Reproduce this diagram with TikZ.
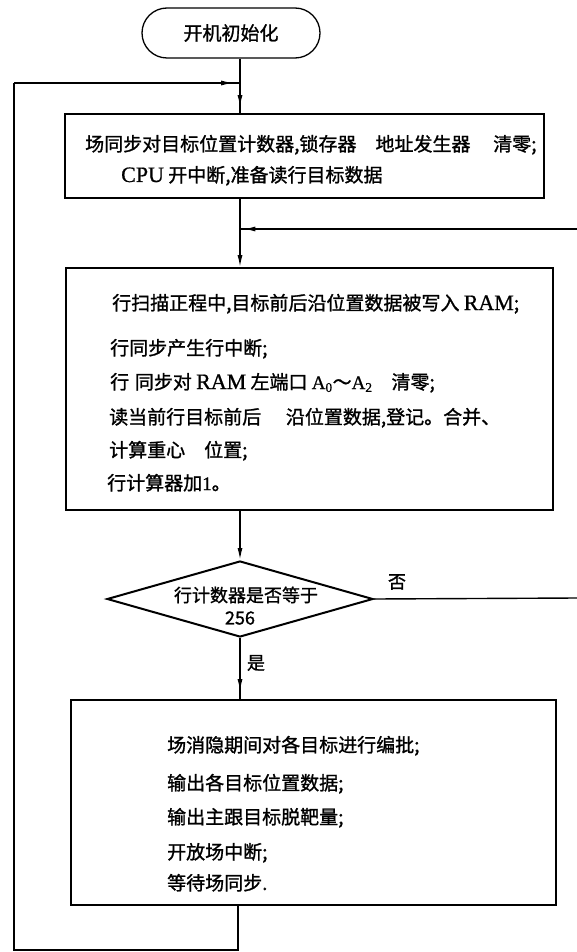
\documentclass[tikz,border=0pt]{standalone}
\usepackage{fontspec}
\setmainfont{Noto Sans CJK SC}[FakeBold=1.2]
\newfontfamily\lat{Liberation Serif}[FakeBold=0.8]
\newcommand\latw[1]{{\lat\fontsize{22}{22}\selectfont #1}}
\usetikzlibrary{shapes.geometric,arrows.meta,decorations.markings}
\begin{document}
\begin{tikzpicture}[x=1pt,y=-1pt,
  cjkfont/.style={font=\fontsize{19}{19}\selectfont},
  smallfont/.style={font=\fontsize{18}{18}\selectfont},
  terminal/.style={draw,line width=1.3pt,rounded corners=25pt,minimum width=178pt,minimum height=50pt,inner sep=0pt,cjkfont},
  procbox/.style={draw,line width=1.7pt,rectangle,inner sep=0pt},
  decision/.style={draw,diamond,line width=2pt,inner sep=0pt,minimum width=266pt,minimum height=76pt},
  conn/.style={line width=1.4pt},
  tip/.style={-{Latex[length=12pt,width=5pt]}},
  midarrow/.style={postaction={decorate,decoration={markings,mark=at position #1 with {\arrow{Latex[length=12pt,width=5pt]}}}}},
  txt/.style={anchor=base west,inner sep=0pt,cjkfont},
  ctxt/.style={anchor=center,inner sep=0pt,smallfont}]
\useasboundingbox[fill=white] (0,0) rectangle (577,952);

% nodes
\node[terminal] (start) at (231,33) {开机初始化};
\node[procbox,minimum width=479pt,minimum height=84pt] (b1) at (304.5,156) {};
\node[procbox,minimum width=487pt,minimum height=242pt] (b2) at (309.5,389) {};
\node[decision] (dec) at (240,599) {};
\node[procbox,minimum width=485pt,minimum height=205pt] (b3) at (313.5,802.5) {};

% texts in box 1
\node[txt] (t11) at (85,151) {场同步对目标位置计数器,锁存器\hspace{1em}地址发生器\hspace{1.2em}清零;};
\node[txt] (t12) at (121,182) {\latw{CPU} 开中断,准备读行目标数据};

% texts in box 2
\node[txt] (t21) at (112,310) {行扫描正程中,目标前后沿位置数据被写入 \latw{RAM};};
\node[txt] (t22) at (110,355) {行同步产生行中断;};
\node[txt] (t23) at (110,389) {行\hspace{0.3em}同步对 \latw{RAM} 左端口 {\lat A\textsubscript{0}}～{\lat A\textsubscript{2}}\hspace{1em}清零;};
\node[txt] (t24) at (109,424) {读当前行目标前后\hspace{1.3em}沿位置数据,登记。合并、};
\node[txt] (t25) at (109,457) {计算重心\hspace{1em}位置;};
\node[txt] (t26) at (107,490) {行计算器加{\lat 1}。};

% texts in decision
\node[ctxt] (d1) at (246,595) {行计数器是否等于};
\node[ctxt] (d2) at (240,618) {256};

% texts in box 3
\node[txt] (t31) at (167,752) {场消隐期间对各目标进行编批;};
\node[txt] (t32) at (167,790) {输出各目标位置数据;};
\node[txt] (t33) at (167,824) {输出主跟目标脱靶量;};
\node[txt] (t34) at (167,859) {开放场中断;};
\node[txt] (t35) at (167,890) {等待场同步.};

% labels
\node[ctxt] (no) at (397,582) {否};
\node[ctxt] (yes) at (256,663) {是};

% coordinates
\coordinate (j1) at (240,83);
\coordinate (j2) at (240,229);
\coordinate (cTL) at (14,83);
\coordinate (cBL) at (14,950);
\coordinate (cBR) at (238,950);
\coordinate (cR1) at (577,229);
\coordinate (cR2) at (577,598);

% connectors
\draw[conn] (start.south -| j1) -- (j1);
\draw[conn,midarrow=0.8] (j1) -- (b1.north -| j1);
\draw[conn] (b3.south -| cBR) -- (cBR) -- (cBL) -- (cTL);
\draw[conn,midarrow=0.97] (cTL) -- (j1);
\draw[conn] (b1.south -| j1) -- (j2);
\draw[conn,tip] (j2) -- (b2.north -| j1);
\draw[conn,midarrow=0.99] (cR1) -- (j2);
\draw[conn,tip] (b2.south -| j1) -- (dec.north);
\draw[conn,midarrow=0.87] (dec.south) -- (b3.north -| j1);
\draw[conn] (dec.east) -- (cR2);
\end{tikzpicture}
\end{document}
